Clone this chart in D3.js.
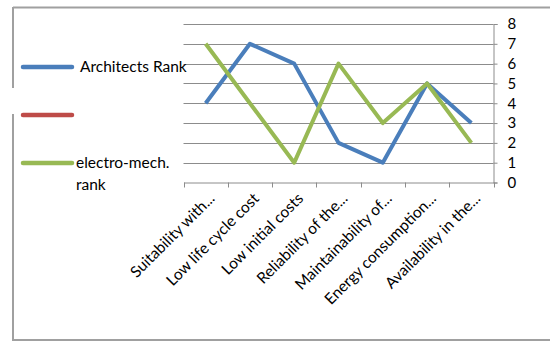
<!DOCTYPE html>
<html><head><meta charset="utf-8">
<script src="https://cdn.jsdelivr.net/npm/d3@7"></script>
<style>body{margin:0;background:#fff}svg{display:block}</style>
</head><body>
<script>
const categories = ["Suitability with...","Low life cycle cost","Low initial costs","Reliability of the...","Maintainability of...","Energy consumption...","Availability in the..."];
const architectsRank = [4,7,6,2,1,5,3];
const electroMechRank = [7,4,1,6,3,5,2];
const yTicks = [0,1,2,3,4,5,6,7,8];
const seriesNames = ["Architects Rank","","electro-mech. rank"];
const colors = ["#4a7ebb","#be4b48","#98b954"];

const W=550,H=341;
const svg=d3.select("body").append("svg").attr("width",W).attr("height",H);
const font="Lato, 'Open Sans', sans-serif";

// outer frame
const frame=svg.append("g").attr("stroke","#a0a0a0").attr("stroke-width",2).attr("fill","none");
frame.append("line").attr("x1",13).attr("x2",W).attr("y1",7.5).attr("y2",7.5);
frame.append("line").attr("x1",13).attr("x2",W).attr("y1",340).attr("y2",340);
frame.append("line").attr("x1",13).attr("x2",13).attr("y1",7).attr("y2",88);
frame.append("line").attr("x1",13).attr("x2",13).attr("y1",114).attr("y2",341);

const x=d3.scaleBand().domain(categories).range([183.5,493.5]);
const y=d3.scaleLinear().domain([0,8]).range([182.5,24]);

// gridlines
svg.append("g").selectAll("line").data(yTicks.filter(d=>d>0)).join("line")
  .attr("x1",183.5).attr("x2",493.5).attr("y1",d=>Math.round(y(d))+0.5).attr("y2",d=>Math.round(y(d))+0.5)
  .attr("stroke","#8c8c8c").attr("stroke-width",1);

// right y axis
const ya=svg.append("g").attr("transform","translate(493.5,0)")
  .call(d3.axisRight(y).tickValues(yTicks).tickSize(4).tickPadding(10).tickFormat(d3.format("d")));
ya.select(".domain").attr("stroke","#8c8c8c");
ya.selectAll(".tick line").attr("stroke","#8c8c8c");
ya.selectAll("text").attr("font-family",font).attr("font-size",15).attr("fill","#000");

// x axis
const xa=svg.append("g").attr("transform","translate(0,"+(y(0))+")")
  .call(d3.axisBottom(x).tickSize(0).tickPadding(0));
xa.select(".domain").attr("stroke","#8c8c8c");
xa.selectAll(".tick line").remove();
const bounds=categories.map(c=>x(c)).concat([x.range()[1]]);
xa.selectAll(".bt").data(bounds).join("line").attr("class","bt")
  .attr("x1",d=>Math.round(d)+0.5).attr("x2",d=>Math.round(d)+0.5).attr("y1",0).attr("y2",5)
  .attr("stroke","#8c8c8c");
xa.selectAll(".tick text")
  .attr("font-family",font).attr("font-size",15.5).attr("fill","#000")
  .attr("text-anchor","end").attr("dy",0)
  .attr("transform","translate(10,17) rotate(-45)");

// lines
const line=d3.line().x((d,i)=>x(categories[i])+x.bandwidth()/2).y(d=>y(d));
[[architectsRank,colors[0]],[electroMechRank,colors[2]]].forEach(([data,c])=>{
  svg.append("path").datum(data).attr("d",line).attr("fill","none")
    .attr("stroke",c).attr("stroke-width",4).attr("stroke-linejoin","round");
});

// legend
const lg=svg.append("g");
const ly=[67,115,163];
ly.forEach((yy,i)=>{
  lg.append("line").attr("x1",23).attr("x2",72).attr("y1",yy).attr("y2",yy)
    .attr("stroke",colors[i]).attr("stroke-width",4.5).attr("stroke-linecap","round");
});
lg.append("text").attr("x",80).attr("y",72).text(seriesNames[0])
  .attr("font-family",font).attr("font-size",15.5).attr("fill","#000");
const t3=lg.append("text").attr("x",76).attr("y",168).attr("font-family",font).attr("font-size",15.5).attr("fill","#000");
t3.append("tspan").attr("x",76).text("electro-mech.");
t3.append("tspan").attr("x",76).attr("dy",22).text("rank");
</script>
</body></html>
